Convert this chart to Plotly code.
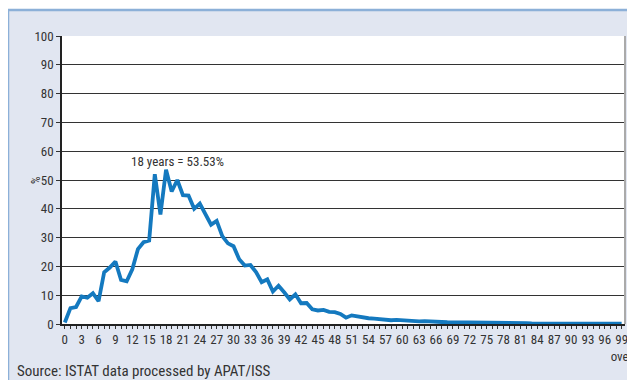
import plotly.graph_objects as go

# ── data: % by age ───────────────────────────────────────────────────────────
ages = list(range(0, 100))
pct = [
    0.5, 5.5, 5.9, 9.6, 9.1, 10.7, 7.9, 18.0, 19.6, 21.7,
    15.3, 14.8, 19.0, 26.0, 28.4, 29.0, 52.0, 38.0, 53.53, 46.0,
    50.0, 44.7, 44.6, 40.0, 41.8, 38.0, 34.5, 35.8, 30.5, 28.0,
    27.0, 22.5, 20.3, 20.5, 18.0, 14.5, 15.5, 11.3, 13.3, 11.0,
    8.5, 10.3, 7.2, 7.3, 5.1, 4.7, 4.9, 4.2, 4.1, 3.5,
    2.2, 3.0, 2.6, 2.3, 2.0, 1.9, 1.6, 1.3, 1.3, 1.4,
    1.2, 1.0, 1.1, 0.9, 1.0, 0.8, 0.7, 0.7, 0.6, 0.6,
    0.6, 0.5, 0.5, 0.5, 0.4, 0.4, 0.4, 0.4, 0.3, 0.3,
    0.3, 0.3, 0.3, 0.2, 0.2, 0.2, 0.2, 0.2, 0.2, 0.2,
    0.1, 0.1, 0.1, 0.1, 0.1, 0.1, 0.1, 0.1, 0.1, 0.1,
]
tick_vals = list(range(0, 100, 3))
tick_text = [str(v) for v in tick_vals[:-1]] + ["99<br>over"]

FONT = "Liberation Sans Narrow, Roboto Condensed, Liberation Sans, sans-serif"

# the page body has an 8px margin, so the figure starts at (8, 8) of the window
OFF = 8
W, H = 635 - OFF, 380 - OFF
L, T = 62 - OFF, 36 - OFF
R, B = W - (625 - OFF), H - (324 - OFF)
pw, ph = W - L - R, H - T - B

def px(x):
    # window pixel -> paper coordinate
    return (x - OFF - L) / pw

def py(y):
    return (H - B - (y - OFF)) / ph

fig = go.Figure()

fig.add_trace(go.Scatter(
    x=ages, y=pct,
    mode='lines',
    line=dict(color='#1479bf', width=3.8),
    hovertemplate="%{x}: %{y:.2f}%<extra></extra>",
    showlegend=False
))

fig.update_layout(
    width=W, height=H,
    margin=dict(l=L, r=R, t=T, b=B, autoexpand=False),
    paper_bgcolor='white',
    plot_bgcolor='white',
    font=dict(family=FONT, size=13, color='#333333'),
    xaxis=dict(
        range=[-0.5, 99.6],
        tickvals=tick_vals, ticktext=tick_text, tickangle=0,
        ticks='outside', ticklen=3, tickcolor='#333',
        minor=dict(dtick=1, ticks='outside', ticklen=3, tickcolor='#333'),
        showgrid=False, zeroline=False,
        showline=True, linecolor='#222', linewidth=1.5,
        tickfont=dict(size=13), automargin=False,
    ),
    yaxis=dict(
        range=[0, 100], dtick=10,
        ticks='outside', ticklen=4, tickcolor='#333',
        showgrid=True, gridcolor='#333333', gridwidth=1,
        zeroline=False,
        showline=True, linecolor='#222', linewidth=1.5,
        tickfont=dict(size=13), automargin=False,
    ),
    shapes=[
        # light blue frame behind everything
        dict(type='rect', xref='paper', yref='paper', layer='below',
             x0=px(8), x1=px(700), y0=py(420), y1=py(10),
             fillcolor='#e1e6f1', line=dict(color='#8cb0d8', width=2.5)),
        dict(type='rect', xref='paper', yref='paper', layer='below',
             x0=0, x1=1, y0=0, y1=1,
             fillcolor='white', line=dict(width=0)),
        dict(type='line', xref='paper', yref='paper',
             x0=1, x1=1, y0=0, y1=1,
             line=dict(color='#aaaaaa', width=2)),
    ],
    annotations=[
        dict(x=20, y=56.3, xref='x', yref='y', text='18 years = 53.53%',
             showarrow=False, font=dict(size=13, color='#333333')),
        dict(x=px(27), y=py(180), xref='paper', yref='paper', text='%',
             showarrow=False, textangle=-90, font=dict(size=12, color='#333333')),
        dict(x=px(15), y=py(371), xref='paper', yref='paper',
             text='Source: ISTAT data processed by APAT/ISS',
             showarrow=False, xanchor='left', yanchor='middle',
             font=dict(size=15, color='#333333')),
    ],
)

fig.write_html("out.html")
